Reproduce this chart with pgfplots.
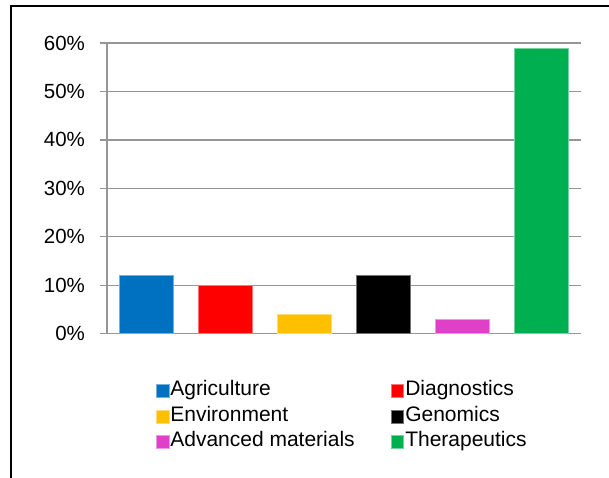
\documentclass[border=0pt]{standalone}
\usepackage{pgfplots}
\pgfplotsset{compat=1.18}
\usepackage{fontspec}
\setmainfont{Liberation Sans}

\definecolor{agri}{RGB}{0,112,192}
\definecolor{diag}{RGB}{255,0,0}
\definecolor{envi}{RGB}{255,192,0}
\definecolor{geno}{RGB}{0,0,0}
\definecolor{advm}{RGB}{224,64,200}
\definecolor{ther}{RGB}{0,176,80}
\definecolor{gridgray}{RGB}{150,150,150}

\pgfplotsset{
  sharebar/.style={ybar, bar width=54pt, fill=#1, draw=#1!55!white, line width=0.6pt},
}

\begin{document}
\begin{tikzpicture}
\useasboundingbox (0,0) rectangle (609pt,-478pt);
% chart frame
\draw[line width=2.3pt] (11.3pt,-482pt) -- (11.3pt,-5.8pt) -- (614pt,-5.8pt);
\begin{axis}[
  at={(107pt,-333.7pt)}, anchor=south west,
  scale only axis, width=474pt, height=290.7pt,
  xmin=-0.5, xmax=5.5, ymin=0, ymax=60,
  axis lines=left,
  axis line style={draw=gridgray, line width=1.2pt, -},
  xtick=\empty,
  ytick={0,10,...,60},
  yticklabel={\pgfmathprintnumber{\tick}\%},
  /pgf/number format/assume math mode=true,
  tick align=outside, major tick length=7pt,
  tick style={draw=gridgray, line width=1.2pt},
  ymajorgrids,
  grid style={draw=gridgray, line width=1.2pt},
  yticklabel style={font=\fontsize{20.5}{24}\selectfont, xshift=-11.5pt},
  legend columns=2,
  legend cell align=left,
  legend image code/.code={\fill[#1] (0pt,-6.5pt) rectangle (12.5pt,6.5pt);},
  legend style={
    draw=none, fill=none,
    at={(0.103,-0.1576)}, anchor=north west,
    inner sep=0pt,
    font=\fontsize{21}{25}\selectfont,
    nodes={inner sep=1.2pt, text height=15pt, text depth=5pt},
    row sep=3.1pt,
    /tikz/every even column/.append style={column sep=35pt},
  },
]
\addplot[sharebar=agri] coordinates {(0,12)};
\addlegendentry{Agriculture}
\addplot[sharebar=diag] coordinates {(1,10)};
\addlegendentry{Diagnostics}
\addplot[sharebar=envi] coordinates {(2,4)};
\addlegendentry{Environment}
\addplot[sharebar=geno] coordinates {(3,12)};
\addlegendentry{Genomics}
\addplot[sharebar=advm] coordinates {(4,3)};
\addlegendentry{Advanced materials}
\addplot[sharebar=ther] coordinates {(5,59)};
\addlegendentry{Therapeutics}
\end{axis}
\end{tikzpicture}
\end{document}
